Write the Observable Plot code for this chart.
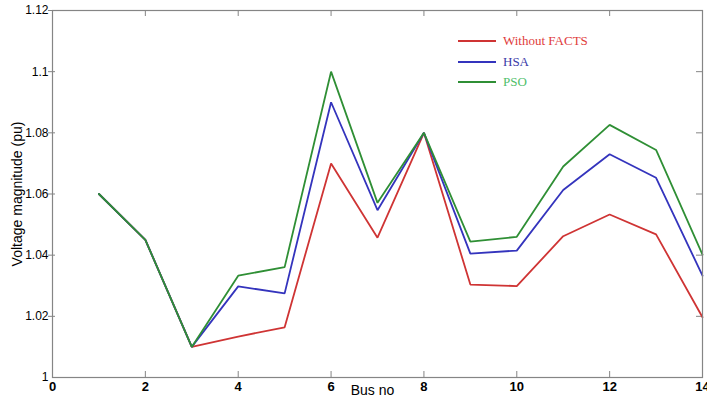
<!DOCTYPE html>
<html>
<head>
<meta charset="utf-8">
<script src="https://cdn.jsdelivr.net/npm/d3@7"></script>
<script src="https://cdn.jsdelivr.net/npm/@observablehq/plot@0.6"></script>
<style>
  html, body { margin: 0; padding: 0; background: #fff; }
  #wrap { position: relative; width: 707px; height: 403px; }
  #legend { position: absolute; left: 458px; top: 31px; font-family: "Liberation Serif", "DejaVu Serif", serif; font-size: 13px; }
  #legend .row { display: flex; align-items: center; height: 20.5px; }
  #legend .sw { width: 38px; height: 0; border-top: 2px solid; margin-right: 7px; }
</style>
</head>
<body>
<div id="wrap"><div id="legend"></div></div>
<script>
const buses = [1, 2, 3, 4, 5, 6, 7, 8, 9, 10, 11, 12, 13, 14];
const withoutFacts = [1.060, 1.045, 1.010, 1.0134, 1.0164, 1.070, 1.0457, 1.080, 1.0304, 1.0299, 1.0462, 1.0533, 1.0468, 1.0197];
const hsa = [1.060, 1.045, 1.010, 1.0298, 1.0275, 1.090, 1.0547, 1.080, 1.0405, 1.0415, 1.0613, 1.0730, 1.0653, 1.0333];
const pso = [1.060, 1.045, 1.010, 1.0333, 1.0361, 1.100, 1.0571, 1.080, 1.0444, 1.0460, 1.0690, 1.0826, 1.0744, 1.0402];
const seriesNames = ["Without FACTS", "HSA", "PSO"];
const seriesValues = [withoutFacts, hsa, pso];
const lineColors = ["#cf3434", "#3434bd", "#2f8f35"];
const textColors = ["#e03c3c", "#3a3aa8", "#4fc06a"];
const xTicks = [0, 2, 4, 6, 8, 10, 12, 14];
const yTicks = [1, 1.02, 1.04, 1.06, 1.08, 1.1, 1.12];

const rows = [];
seriesNames.forEach((name, i) => {
  buses.forEach((b, j) => rows.push({series: name, bus: b, v: seriesValues[i][j]}));
});

const W = 707, H = 403, mL = 52, mR = 5, mT = 10, mB = 26;
const plotW = W - mL - mR, plotH = H - mT - mB;
const tickLen = 6;
const axisColor = "#858585";
const font = "Liberation Sans, Arial, sans-serif";

const chart = Plot.plot({
  width: W, height: H,
  marginLeft: mL, marginRight: mR, marginTop: mT, marginBottom: mB,
  style: {fontFamily: font, fontSize: "12px", color: "#000", background: "#fff"},
  x: {domain: [0, 14]},
  y: {domain: [1, 1.12]},
  marks: [
    Plot.ruleX(xTicks.slice(1, -1), {x: d => d, insetTop: plotH - tickLen, stroke: axisColor}),
    Plot.ruleX(xTicks.slice(1, -1), {x: d => d, insetBottom: plotH - tickLen, stroke: axisColor}),
    Plot.ruleY(yTicks.slice(1), {y: d => d, insetLeft: -4, insetRight: plotW - 3, stroke: axisColor}),
    Plot.ruleY(yTicks.slice(1, -1), {y: d => d, insetLeft: plotW - tickLen, stroke: axisColor}),
    ...seriesNames.map((name, i) => Plot.line(rows.filter(r => r.series === name), {
      x: "bus", y: "v", stroke: lineColors[i], strokeWidth: 1.8, strokeLinejoin: "miter"
    })),
    Plot.frame({stroke: axisColor, strokeWidth: 1.2}),
    Plot.axisX(xTicks, {tickSize: 0, tickPadding: 4, tickFormat: d => String(d), label: null, fontSize: 13, fontWeight: "bold"}),
    Plot.axisY(yTicks, {tickSize: 0, tickPadding: 4, tickFormat: d => String(+d.toFixed(2)), label: null, fontSize: 12}),
    Plot.text(["Bus no"], {frameAnchor: "bottom", dx: -5, dy: 17, fontSize: 14, textAnchor: "middle", text: d => d}),
    Plot.text(["Voltage magnitude (pu)"], {frameAnchor: "left", rotate: -90, dx: -35, fontSize: 14, textAnchor: "middle", text: d => d})
  ]
});
document.getElementById("wrap").prepend(chart);

const legend = document.getElementById("legend");
seriesNames.forEach((name, i) => {
  const row = document.createElement("div");
  row.className = "row";
  const sw = document.createElement("span");
  sw.className = "sw";
  sw.style.borderColor = lineColors[i];
  const t = document.createElement("span");
  t.textContent = name;
  t.style.color = textColors[i];
  row.append(sw, t);
  legend.append(row);
});
</script>
</body>
</html>
